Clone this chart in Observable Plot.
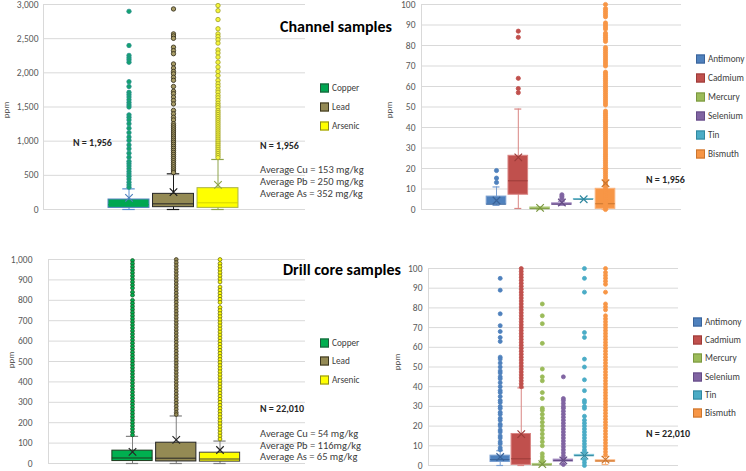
<!DOCTYPE html>
<html><head><meta charset="utf-8">
<script src="https://cdn.jsdelivr.net/npm/d3@7"></script>
<script src="https://cdn.jsdelivr.net/npm/@observablehq/plot@0.6"></script>
<style>
body{margin:0;background:#fff;}
#wrap{position:relative;width:746px;height:471px;overflow:hidden;font-family:Carlito,Lato,"Liberation Sans",sans-serif;}
#wrap svg{position:absolute;}
.t{position:absolute;white-space:nowrap;transform:translateY(-50%);line-height:1;}
.lg{transform:translateY(-50%) scaleX(0.88);transform-origin:0 50%;}
.sw{position:absolute;width:7px;height:7px;transform:translateY(-50%);}
.ppm{position:absolute;white-space:nowrap;font-size:9px;color:#595959;transform:translate(-50%,-50%) rotate(-90deg);}
</style></head>
<body><div id="wrap"></div>
<script>
// ---------------- DATA ----------------
const majorElements = ["Copper", "Lead", "Arsenic"];
const traceElements = ["Antimony", "Cadmium", "Mercury", "Selenium", "Tin", "Bismuth"];

// tick values / labels
const chMajorTicks = [0, 500, 1000, 1500, 2000, 2500, 3000];
const chMajorTickLabels = ["0", "500", "1,000", "1,500", "2,000", "2,500", "3,000"];
const dcMajorTicks = [0, 100, 200, 300, 400, 500, 600, 700, 800, 900, 1000];
const dcMajorTickLabels = ["0", "100", "200", "300", "400", "500", "600", "700", "800", "900", "1,000"];
const traceTicks = [0, 10, 20, 30, 40, 50, 60, 70, 80, 90, 100];
const traceTickLabels = ["0", "10", "20", "30", "40", "50", "60", "70", "80", "90", "100"];

// Channel samples, major elements (ppm)
const chMajorQ1 = [24, 34, 24];
const chMajorMedian = [70, 83, 98];
const chMajorQ3 = [146, 229, 312];
const chMajorMean = [170, 254, 361];
const chMajorLow = [0, 0, 0];
const chMajorHigh = [302, 522, 732];
const chCopperOut = [2900, 2400, 2255, 2220, 2190, 2155, 1870, 1800, 1715, 1680, 1645, 1605, 1565, 1530, 1500, 1385, 1350, 1310, 1255, 1190, 1125, 1060, 1010, 945, 890, 825, 765, 705, 670, 635, 595, 555, 520, 485, 445, 400, 360, 325];
const chLeadOut = [2935, 2570, 2540, 2505, 2375, 2325, 2280, 2130, 2070, 2020, 1985, 1935, 1890, 1800, 1730, 1695, 1645, 1595, 1545, 1450, 1400, 1350, 1310, 1255, 1225, 1195, 1165, 1135, 1105, 1075, 1045, 1015, 985, 955, 925, 895, 865, 835, 805, 775, 745, 715, 685, 655, 625, 595, 565, 540];
const chArsenicOut = [2985, 2910, 2780, 2645, 2570, 2530, 2485, 2435, 2335, 2290, 2230, 2155, 2085, 2020, 1960, 1890, 1840, 1800, 1750, 1715, 1670, 1635, 1595, 1555, 1520, 1490, 1450, 1420, 1390, 1360, 1330, 1300, 1270, 1240, 1210, 1180, 1150, 1120, 1090, 1060, 1030, 1000, 970, 940, 910, 880, 850, 820, 790, 760];

// Channel samples, trace elements (ppm)
const chTraceQ1 = [2.4, 7.2, 0.2, 2.3, 4.9, 0.3];
const chTraceMedian = [2.6, 14, 0.4, 2.6, 5, 2.8];
const chTraceQ3 = [6.3, 26.2, 1, 3, 5.1, 10.1];
const chTraceMean = [4.4, 25.4, 0.8, 3.4, 5, 12.8];
const chTraceLow = [2, 0.5, 0, 2, 5, 0];
const chTraceHigh = [11, 49, 1.2, 4, 5, 20];
const chAntimonyOut = [19, 15.3, 13.2];
const chCadmiumOut = [87, 84, 64, 59, 57];
const chMercuryOut = [];
const chSeleniumOut = [7.2, 6.3, 5.3];
const chTinOut = [];
const chBismuthOut = [100, 98, 97, 96, 95, 94, 91, 90, 89, 88, 86, 85, 84, 83, 82, 79, 78, 77, 76, 75, 74, 73, 72, 71, 70, 67, 66, 65, 64, 63, 62, 61, 60, 59, 58, 57, 56, 55, 54, 53, 52, 51, 48, 47, 46, 45, 44, 43, 42, 41, 40, 39, 38, 37, 36, 35, 34, 33, 32, 31, 30, 29, 28, 27, 26, 25, 24, 23, 22, 21, 20, 19, 18, 17, 16, 15, 14, 13, 12, 11, 10, 9, 8, 7, 6, 5, 4, 3, 2, 1, 0];

// Drill core samples, major elements (ppm)
const dcMajorQ1 = [12, 10, 9];
const dcMajorMedian = [27, 26, 22];
const dcMajorQ3 = [63, 102, 53];
const dcMajorMean = [57, 116, 66];
const dcMajorLow = [0, 0, 0];
const dcMajorHigh = [133, 233, 110];
const dcCopperOut = [995, 980, 965, 950, 935, 920, 905, 890, 875, 860, 840, 825, 800, 785, 770, 755, 740, 725, 710, 695, 680, 665, 650, 635, 620, 605, 590, 575, 560, 545, 530, 515, 500, 485, 470, 455, 440, 425, 410, 395, 380, 365, 350, 335, 320, 305, 290, 275, 260, 245, 230, 215, 200, 185, 170, 155, 140];
const dcLeadOut = [1000, 985, 970, 955, 940, 925, 910, 895, 880, 865, 850, 835, 820, 805, 790, 775, 760, 745, 730, 715, 700, 685, 670, 655, 640, 625, 610, 595, 580, 565, 550, 535, 520, 505, 490, 475, 460, 445, 430, 415, 400, 385, 370, 355, 340, 325, 310, 295, 280, 265, 250, 240];
const dcArsenicOut = [1000, 980, 965, 950, 935, 920, 905, 890, 865, 850, 835, 820, 805, 790, 765, 750, 735, 720, 705, 690, 675, 660, 645, 630, 615, 600, 585, 570, 555, 540, 525, 510, 495, 480, 465, 450, 435, 420, 405, 390, 375, 360, 345, 330, 315, 300, 285, 270, 255, 240, 225, 210, 195, 180, 165, 150, 135, 120];

// Drill core samples, trace elements (ppm)
const dcTraceQ1 = [1.8, 0.3, 0.1, 2, 4.7, 1.9];
const dcTraceMedian = [3, 3.4, 0.3, 2.5, 5, 2.3];
const dcTraceQ3 = [5, 16, 0.8, 3, 5.4, 2.6];
const dcTraceMean = [4.3, 15.9, 0.7, 2.6, 5, 3];
const dcTraceLow = [0, 0, 0, 0.5, 3, 0.5];
const dcTraceHigh = [7.5, 39.4, 1.5, 4, 6.5, 4.5];
const dcAntimonyOut = [95, 89, 77, 71, 68, 65, 63, 55, 54, 52, 50, 48, 47, 45, 44, 42, 40, 38, 37, 35, 33, 32, 30, 29, 27, 26, 24, 23, 21, 20, 18, 17, 15, 14, 12, 11, 9, 8];
const dcCadmiumOut = [100, 98.5, 97, 95.5, 94, 92.5, 91, 89.5, 88, 86.5, 85, 83.5, 82, 80.5, 79, 77.5, 76, 74.5, 73, 71.5, 70, 68.5, 67, 65.5, 64, 62.5, 61, 59.5, 58, 56.5, 55, 53.5, 52, 50.5, 49, 47.5, 46, 44.5, 43, 41.5, 40];
const dcMercuryOut = [82, 76, 72, 62, 49, 45, 43, 37, 34, 29, 28, 26, 24, 22, 20, 18, 16, 14, 12, 10, 6, 4.5, 3, 2];
const dcSeleniumOut = [45, 34, 33, 31.5, 30, 29, 27.5, 26, 24.5, 23, 21.5, 20, 18.5, 17, 15.5, 14, 12.5, 11, 9.5, 8, 6.5, 5, 3.5, 0.5];
const dcTinOut = [100, 95, 88, 67.5, 65, 54, 50, 43.5, 38, 33, 32, 30, 29, 25, 23, 21.5, 20, 18.5, 17, 15.5, 14, 12.5, 11, 9.5, 8, 7, 3, 1.5, 0];
const dcBismuthOut = [100, 98, 96.5, 95, 93.5, 92, 88, 82, 80.5, 79, 76, 74.5, 73, 71.5, 70, 68.5, 67, 65.5, 64, 62.5, 61, 59.5, 58, 56.5, 55, 53.5, 52, 50.5, 49, 47.5, 46, 44.5, 43, 41.5, 40, 38.5, 37, 35.5, 34, 32.5, 31, 29.5, 28, 26.5, 25, 23.5, 22, 20.5, 19, 17.5, 16, 14.5, 13, 11.5, 10, 8.5, 7, 5.5];

// text
const chN = "N = 1,956";
const dcN = "N = 22,010";
const chAverages = ["Average Cu = 153 mg/kg", "Average Pb = 250 mg/kg", "Average As =  352 mg/kg"];
const dcAverages = ["Average Cu = 54 mg/kg", "Average Pb = 116mg/kg", "Average As =  65 mg/kg"];

// ---------------- STYLES ----------------
const FONT = 'Carlito, Lato, "Liberation Sans", sans-serif';
const chMajorColors = {
  fill: ["#00a651", "#948a54", "#ffff00"],
  stroke: ["#4f81bd", "#262626", "#a9b24a"],
  whisker: ["#5b8fd0", "#1a1a1a", "#8ea44a"],
  dotFill: ["#13a36e", "#a89c66", "#f5f53a"],
  dotStroke: ["#2a8f8f", "#2f2a18", "#9e9e2a"],
  median: ["#00a651", "#262626", "#d4d400"],
  mean: ["#4f81bd", "#1a1a1a", "#8ea44a"]
};
const dcMajorColors = {
  fill: ["#00b050", "#948a54", "#ffff00"],
  stroke: ["#1e3a1e", "#262626", "#404040"],
  whisker: ["#7f7f7f", "#7f7f7f", "#7f7f7f"],
  dotFill: ["#00b050", "#948a54", "#ffff00"],
  dotStroke: ["#1d5a2a", "#3d3620", "#6e6e10"],
  median: ["#1e3a1e", "#262626", "#404040"],
  mean: ["#262626", "#262626", "#262626"]
};
const traceFill = ["#4f81bd", "#c0504d", "#9bbb59", "#8064a2", "#4bacc6", "#f79646"];
const traceLight = ["#7a9fd0", "#d98583", "#b3cf85", "#a28cc0", "#7fc6d8", "#fab27a"];
const traceDark = ["#3a6399", "#9c3b38", "#7a9640", "#644b85", "#31889f", "#c9752f"];
const traceColors = {
  fill: traceFill, stroke: traceLight, whisker: traceLight,
  dotFill: traceFill, dotStroke: traceFill, median: traceDark, mean: traceDark
};

const wrap = document.getElementById("wrap");

function drawPanel(cfg) {
  const n = cfg.cats.length;
  const stats = cfg.cats.map((c, i) => ({cat: c, i, q1: cfg.q1[i], med: cfg.median[i], q3: cfg.q3[i], mean: cfg.mean[i], lo: cfg.lo[i], hi: cfg.hi[i]}));
  const outs = cfg.outliers.flatMap((arr, i) => arr.map(v => ({i, v})));
  const hw = cfg.halfWidth, ch = cfg.capHalf, C = cfg.colors;
  const col = arr => d => arr[d.i];
  const svg = Plot.plot({
    width: cfg.width, height: cfg.height,
    marginTop: cfg.mt, marginBottom: cfg.mb, marginLeft: cfg.ml, marginRight: cfg.mr,
    x: {domain: [0, n - 1], range: cfg.xRange, axis: null},
    y: {domain: [0, cfg.yMax], axis: null},
    color: {type: "identity"},
    style: {background: "transparent", fontFamily: FONT, overflow: "visible"},
    marks: [
      Plot.ruleY(cfg.ticks, {stroke: "#d9d9d9", strokeWidth: 1}),
      Plot.frame({anchor: "left", stroke: "#d9d9d9"}),
      Plot.axisY(cfg.ticks, {tickSize: 0, tickPadding: cfg.tickPadding, tickFormat: d => cfg.tickLabels[cfg.ticks.indexOf(d)], fontSize: 9.5, fill: "#595959"}),
      Plot.ruleX(stats, {x: "i", y1: "lo", y2: "hi", stroke: col(C.whisker), strokeWidth: 1}),
      Plot.ruleY(stats, {y: "hi", x1: d => d.i - ch, x2: d => d.i + ch, stroke: col(C.whisker), strokeWidth: 1.2}),
      Plot.ruleY(stats, {y: "lo", x1: d => d.i - ch, x2: d => d.i + ch, stroke: col(C.whisker), strokeWidth: 1.2}),
      Plot.rect(stats, {x1: d => d.i - hw, x2: d => d.i + hw, y1: "q1", y2: "q3", fill: col(C.fill), stroke: col(C.stroke), strokeWidth: 1}),
      Plot.ruleY(stats, {y: "med", x1: d => d.i - hw, x2: d => d.i + hw, stroke: col(C.median), strokeWidth: 1}),
      Plot.dot(outs, {x: "i", y: "v", r: cfg.dotR, fill: col(C.dotFill), stroke: col(C.dotStroke), strokeWidth: 0.8}),
      Plot.dot(stats, {x: "i", y: "mean", symbol: "times", r: cfg.meanR, stroke: col(C.mean), strokeWidth: 1.2})
    ]
  });
  svg.style.left = cfg.left + "px";
  svg.style.top = cfg.top + "px";
  wrap.appendChild(svg);
}

function text(str, left, cy, css, cls) {
  const d = document.createElement("div");
  d.className = "t" + (cls ? " " + cls : "");
  d.textContent = str;
  d.style.left = left + "px";
  d.style.top = cy + "px";
  Object.assign(d.style, css || {});
  wrap.appendChild(d);
}
function legend(names, fills, borders, swLeft, labLeft, ys) {
  names.forEach((nm, i) => {
    const s = document.createElement("div");
    s.className = "sw";
    s.style.left = swLeft + "px";
    s.style.top = ys[i] + "px";
    s.style.background = fills[i];
    s.style.border = "1px solid " + borders[i];
    wrap.appendChild(s);
    text(nm, labLeft, ys[i], {fontSize: "10.5px", color: "#404040"}, "lg");
  });
}
function ppm(cx, cy) {
  const d = document.createElement("div");
  d.className = "ppm";
  d.textContent = "ppm";
  d.style.left = cx + "px";
  d.style.top = cy + "px";
  wrap.appendChild(d);
}

// Top-left: channel, major
drawPanel({
  cats: majorElements, q1: chMajorQ1, median: chMajorMedian, q3: chMajorQ3, mean: chMajorMean, lo: chMajorLow, hi: chMajorHigh,
  outliers: [chCopperOut, chLeadOut, chArsenicOut],
  left: 0, top: 0, width: 310, height: 225, mt: 4, mb: 16, ml: 43, mr: 5,
  xRange: [128.5, 217.5], yMax: 3000, ticks: chMajorTicks, tickLabels: chMajorTickLabels, tickPadding: 5,
  halfWidth: 0.46, capHalf: 0.14, dotR: 2.2, meanR: 3.5, colors: chMajorColors
});
// Top-right: channel, trace
drawPanel({
  cats: traceElements, q1: chTraceQ1, median: chTraceMedian, q3: chTraceQ3, mean: chTraceMean, lo: chTraceLow, hi: chTraceHigh,
  outliers: [chAntimonyOut, chCadmiumOut, chMercuryOut, chSeleniumOut, chTinOut, chBismuthOut],
  left: 373, top: 0, width: 310, height: 225, mt: 4, mb: 16, ml: 48, mr: 2,
  xRange: [123, 232], yMax: 100, ticks: traceTicks, tickLabels: traceTickLabels, tickPadding: 6,
  halfWidth: 0.45, capHalf: 0.16, dotR: 2.1, meanR: 3.5, colors: traceColors
});
// Bottom-left: drill core, major
drawPanel({
  cats: majorElements, q1: dcMajorQ1, median: dcMajorMedian, q3: dcMajorQ3, mean: dcMajorMean, lo: dcMajorLow, hi: dcMajorHigh,
  outliers: [dcCopperOut, dcLeadOut, dcArsenicOut],
  left: 0, top: 235, width: 310, height: 236, mt: 24, mb: 8, ml: 48, mr: 5,
  xRange: [132, 219.5], yMax: 1000, ticks: dcMajorTicks, tickLabels: dcMajorTickLabels, tickPadding: 16,
  halfWidth: 0.46, capHalf: 0.14, dotR: 1.9, meanR: 3.5, colors: dcMajorColors
});
// Bottom-right: drill core, trace
drawPanel({
  cats: traceElements, q1: dcTraceQ1, median: dcTraceMedian, q3: dcTraceQ3, mean: dcTraceMean, lo: dcTraceLow, hi: dcTraceHigh,
  outliers: [dcAntimonyOut, dcCadmiumOut, dcMercuryOut, dcSeleniumOut, dcTinOut, dcBismuthOut],
  left: 373, top: 235, width: 310, height: 236, mt: 33, mb: 6, ml: 55, mr: 5,
  xRange: [126.7, 232], yMax: 100, ticks: traceTicks, tickLabels: traceTickLabels, tickPadding: 6,
  halfWidth: 0.46, capHalf: 0.16, dotR: 2, meanR: 3.5, colors: traceColors
});

// titles
text("Channel samples", 280, 27, {fontSize: "16px", fontWeight: "bold", color: "#000"});
text("Drill core samples", 283, 270, {fontSize: "16px", fontWeight: "bold", color: "#000"});

// legends
legend(majorElements, chMajorColors.fill, ["#1e5a3a", "#3a3520", "#8a8a20"], 320, 332, [88, 107, 126]);
legend(traceElements, traceFill, traceDark, 696, 708, [58.5, 77.5, 97, 116, 135, 154]);
legend(majorElements, dcMajorColors.fill, ["#1e5a3a", "#3a3520", "#8a8a20"], 320, 332, [342.7, 361.3, 380.3]);
legend(traceElements, traceFill, traceDark, 693, 705, [321.7, 340, 358.3, 377, 395, 413]);

// N labels
const nCss = {fontSize: "10px", fontWeight: "bold", color: "#262626"};
text(chN, 73, 142.7, nCss);
text(chN, 260, 146, nCss);
text(chN, 646, 180, nCss);
text(dcN, 260, 409, nCss);
text(dcN, 646, 434.3, nCss);

// averages
const avCss = {fontSize: "10.5px", color: "#404040"};
chAverages.forEach((s, i) => text(s, 260, [170, 182, 194][i], avCss));
dcAverages.forEach((s, i) => text(s, 260, [434, 445.7, 457.3][i], avCss));

// axis titles
ppm(5, 110); ppm(388, 110); ppm(10, 360); ppm(395.7, 361.7);
</script>
</body></html>
